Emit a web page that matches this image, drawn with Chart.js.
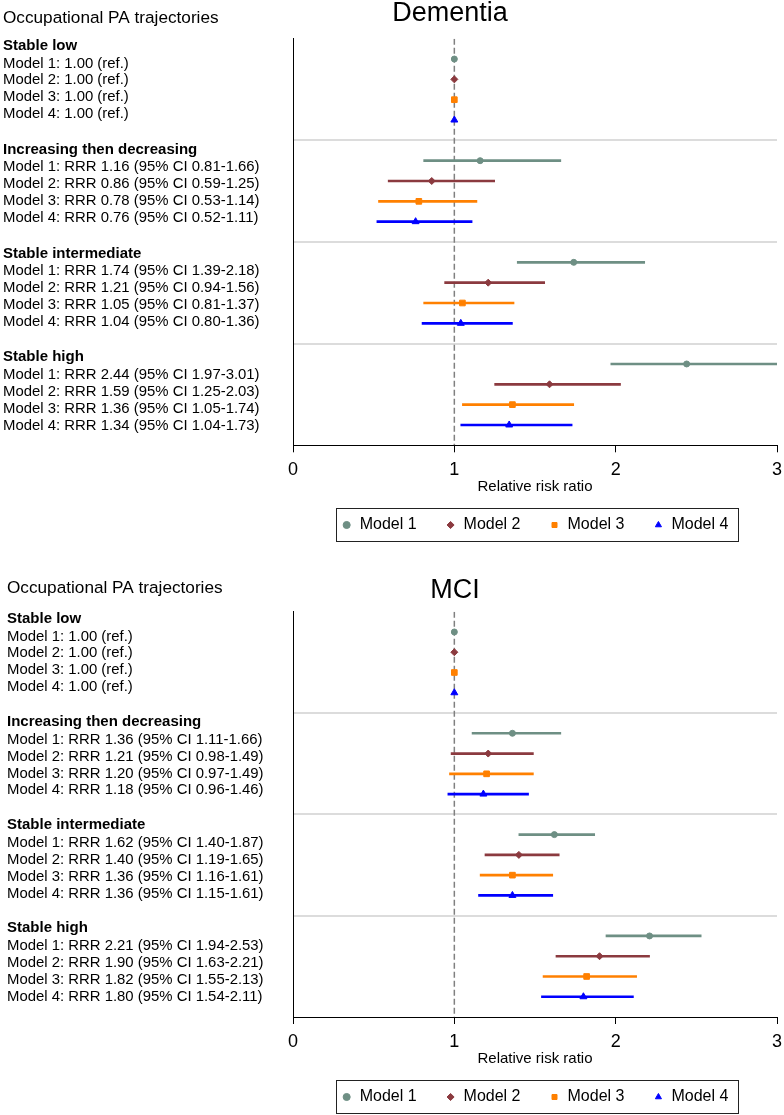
<!DOCTYPE html>
<html>
<head>
<meta charset="utf-8">
<title>Occupational PA trajectories - Dementia and MCI</title>
<script src="https://cdn.jsdelivr.net/npm/chart.js@4.4.1/dist/chart.umd.min.js"></script>
<style>
  body { margin: 0; background: #fff; overflow: hidden; }
  canvas { position: absolute; left: 0; }
</style>
</head>
<body>
<canvas id="dementiaChart" width="784" height="572" style="top:0"></canvas>
<canvas id="mciChart" width="784" height="543" style="top:572px"></canvas>
<script>
// Groups, models, styles
const groups = ['Stable low', 'Increasing then decreasing', 'Stable intermediate', 'Stable high'];
const models = ['Model 1', 'Model 2', 'Model 3', 'Model 4'];
const modelColors = ['#6E8F84', '#8B3A3F', '#FF8000', '#0000FF'];
const modelShapes = ['circle', 'rectRot', 'rect', 'triangle'];
const markerRadius = [3, 3.5, 4, 4];
const xTicks = [0, 1, 2, 3];

// Dementia - RRR and 95% CI per group (stable low = reference)
const demEst1 = [1.00, 1.16, 1.74, 2.44];
const demLo1  = [1.00, 0.81, 1.39, 1.97];
const demHi1  = [1.00, 1.66, 2.18, 3.01];
const demEst2 = [1.00, 0.86, 1.21, 1.59];
const demLo2  = [1.00, 0.59, 0.94, 1.25];
const demHi2  = [1.00, 1.25, 1.56, 2.03];
const demEst3 = [1.00, 0.78, 1.05, 1.36];
const demLo3  = [1.00, 0.53, 0.81, 1.05];
const demHi3  = [1.00, 1.14, 1.37, 1.74];
const demEst4 = [1.00, 0.76, 1.04, 1.34];
const demLo4  = [1.00, 0.52, 0.80, 1.04];
const demHi4  = [1.00, 1.11, 1.36, 1.73];

// MCI
const mciEst1 = [1.00, 1.36, 1.62, 2.21];
const mciLo1  = [1.00, 1.11, 1.40, 1.94];
const mciHi1  = [1.00, 1.66, 1.87, 2.53];
const mciEst2 = [1.00, 1.21, 1.40, 1.90];
const mciLo2  = [1.00, 0.98, 1.19, 1.63];
const mciHi2  = [1.00, 1.49, 1.65, 2.21];
const mciEst3 = [1.00, 1.20, 1.36, 1.82];
const mciLo3  = [1.00, 0.97, 1.16, 1.55];
const mciHi3  = [1.00, 1.49, 1.61, 2.13];
const mciEst4 = [1.00, 1.18, 1.36, 1.80];
const mciLo4  = [1.00, 0.96, 1.15, 1.54];
const mciHi4  = [1.00, 1.46, 1.61, 2.11];

const FONT = "'Liberation Sans', Arial, sans-serif";
Chart.defaults.font.family = FONT;
Chart.defaults.color = '#000';

// each group takes 5 rows on the y scale: a blank header row + 4 models
function slotOf(g, m) {
    return g * 5 + m + 1;
}

function rowLabel(m, g, est, lo, hi) {
    if (g === 0) return `${models[m]}: ${est.toFixed(2)} (ref.)`;
    return `${models[m]}: RRR ${est.toFixed(2)} (95% CI ${lo.toFixed(2)}-${hi.toFixed(2)})`;
}

function buildChart(canvasId, panel) {
    const datasets = [];

    // point estimates
    models.forEach((name, m) => {
        datasets.push({
            type: 'scatter',
            label: name,
            inLegend: true,
            order: 1,
            data: groups.map((_, g) => ({ x: panel.est[m][g], y: slotOf(g, m) })),
            pointStyle: modelShapes[m],
            pointRadius: markerRadius[m],
            pointBorderWidth: 1,
            backgroundColor: modelColors[m],
            borderColor: modelColors[m]
        });
    });

    // confidence intervals as thin floating bars
    models.forEach((name, m) => {
        datasets.push({
            type: 'bar',
            label: name + ' CI',
            indexAxis: 'y',
            grouped: false,
            order: 5,
            data: groups.map((_, g) => ({ x: [panel.lo[m][g], panel.hi[m][g]], y: slotOf(g, m) })),
            backgroundColor: modelColors[m],
            barThickness: 2
        });
    });

    // dashed line at RRR = 1
    datasets.push({
        type: 'line',
        label: 'ref',
        order: 10,
        data: [{ x: 1, y: 0 }, { x: 1, y: 20 }],
        borderColor: '#808080',
        borderWidth: 1.5,
        borderDash: [6, 3],
        pointRadius: 0
    });

    // side texts, title and legend frame
    const textPlugin = {
        id: 'sideText',
        afterDraw(chart) {
            const ctx = chart.ctx;
            ctx.save();
            ctx.fillStyle = '#000';
            ctx.textBaseline = 'alphabetic';

            ctx.textAlign = 'center';
            ctx.font = `27px ${FONT}`;
            ctx.fillText(panel.title, panel.titleX, panel.titleY);

            ctx.textAlign = 'left';
            ctx.font = `17.2px ${FONT}`;
            ctx.fillText('Occupational PA trajectories', panel.textX, panel.headY);

            groups.forEach((grp, g) => {
                const y0 = panel.groupY + panel.groupStep * g;
                ctx.font = `bold 15px ${FONT}`;
                ctx.fillText(grp, panel.textX, y0);
                ctx.font = `14.9px ${FONT}`;
                models.forEach((_, m) => {
                    const txt = rowLabel(m, g, panel.est[m][g], panel.lo[m][g], panel.hi[m][g]);
                    ctx.fillText(txt, panel.textX, y0 + 17.5 + 16.95 * m);
                });
            });

            // frame round the legend
            const hb = chart.legend.legendHitBoxes;
            if (hb && hb.length) {
                const last = hb[hb.length - 1];
                const left = Math.round(hb[0].left - 6) + 0.5;
                const right = Math.round(last.left + last.width + 10) + 0.5;
                const cy = hb[0].top + hb[0].height / 2;
                const top = Math.round(cy - 17) + 0.5;
                ctx.strokeStyle = '#222';
                ctx.lineWidth = 1;
                ctx.strokeRect(left, top, right - left, 33);
            }
            ctx.restore();
        }
    };

    return new Chart(document.getElementById(canvasId), {
        type: 'scatter',
        data: { datasets },
        plugins: [textPlugin],
        options: {
            responsive: false,
            animation: false,
            events: [],
            layout: { padding: { left: 0, right: 7, top: panel.padTop, bottom: panel.padBottom } },
            scales: {
                x: {
                    type: 'linear',
                    min: 0,
                    max: 3,
                    afterBuildTicks: s => { s.ticks = xTicks.map(v => ({ value: v })); },
                    afterFit: s => {
                        s.height = panel.xAxisHeight;
                        s.paddingLeft = 0;
                        s.paddingRight = 0;
                    },
                    grid: { drawOnChartArea: false, drawTicks: true, tickLength: 7, tickColor: '#000', tickWidth: 1 },
                    border: { color: '#000', width: 1 },
                    ticks: { font: { size: 18 }, color: '#000', padding: 7 },
                    title: {
                        display: true,
                        text: 'Relative risk ratio',
                        font: { size: 15 },
                        color: '#000',
                        padding: { top: 0, bottom: -8 }
                    }
                },
                y: {
                    type: 'linear',
                    min: 0,
                    max: 20,
                    reverse: true,
                    offset: false,
                    afterFit: s => { s.width = 293; },
                    ticks: { display: false, stepSize: 5 },
                    grid: {
                        offset: false,
                        drawTicks: false,
                        lineWidth: 2,
                        color: c => (c.tick && c.tick.value % 20 !== 0) ? '#DCDCDC' : 'rgba(0,0,0,0)'
                    },
                    border: { color: '#000', width: 1 }
                }
            },
            plugins: {
                legend: {
                    position: 'bottom',
                    fullSize: false,
                    labels: {
                        usePointStyle: true,
                        boxWidth: 10,
                        boxHeight: 5,
                        padding: 29,
                        font: { size: 16 },
                        color: '#000',
                        filter: (item, data) => !!data.datasets[item.datasetIndex].inLegend
                    }
                },
                tooltip: { enabled: false },
                title: { display: false }
            }
        }
    });
}

buildChart('dementiaChart', {
    title: 'Dementia',
    titleX: 450, titleY: 21,
    textX: 3, headY: 23.2,
    groupY: 50, groupStep: 103.8,
    padTop: 38.7, padBottom: 29, xAxisHeight: 42.7,
    est: [demEst1, demEst2, demEst3, demEst4],
    lo: [demLo1, demLo2, demLo3, demLo4],
    hi: [demHi1, demHi2, demHi3, demHi4]
});

buildChart('mciChart', {
    title: 'MCI',
    titleX: 455, titleY: 26.3,
    textX: 7, headY: 21.2,
    groupY: 51, groupStep: 103.1,
    padTop: 39.7, padBottom: 0, xAxisHeight: 43,
    est: [mciEst1, mciEst2, mciEst3, mciEst4],
    lo: [mciLo1, mciLo2, mciLo3, mciLo4],
    hi: [mciHi1, mciHi2, mciHi3, mciHi4]
});
</script>
</body>
</html>
